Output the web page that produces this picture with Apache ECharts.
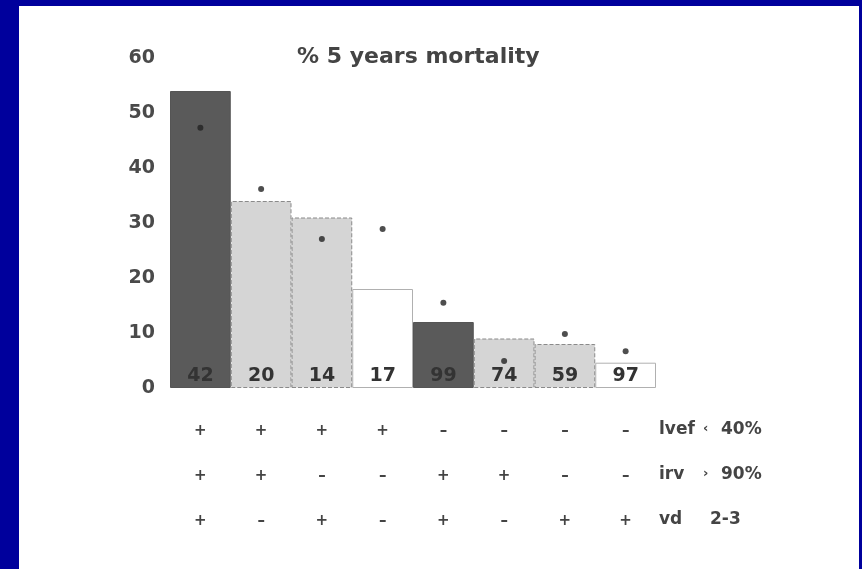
<!DOCTYPE html>
<html>
<head>
<meta charset="utf-8">
<script src="https://cdn.jsdelivr.net/npm/echarts@6/dist/echarts.min.js"></script>
<style>
html,body{margin:0;padding:0;width:862px;height:569px;background:#00009C;overflow:hidden;}
#panel{position:absolute;left:19px;top:6px;width:840px;height:563px;background:#fff;}
#chart{position:absolute;left:0;top:0;width:862px;height:569px;}
</style>
</head>
<body>
<div id="panel"></div>
<div id="chart"></div>
<script>
// ---- data ----
const groups = ['G1','G2','G3','G4','G5','G6','G7','G8'];
const mortality = [54, 34, 31, 18, 12, 9, 8, 4.6];          // % 5 years mortality (bars)
const marks = [47.3, 36.2, 27.1, 28.9, 15.5, 4.9, 9.8, 6.7]; // asterisk points
const counts = [42, 20, 14, 17, 99, 74, 59, 97];             // n in each bar
const lvef = ['+','+','+','+','–','–','–','–'];
const irv  = ['+','+','–','–','+','+','–','–'];
const vd   = ['+','–','+','–','+','–','+','+'];
const shade = ['dark','light','light','white','dark','light','light','white'];
const yTicks = [0, 10, 20, 30, 40, 50, 60];
const rowNames = ['lvef', 'irv', 'vd'];
const rowOps = ['‹', '›', ''];
const rowVals = ['40%', '90%', '2-3'];

const styles = {
  dark:  {color:'#5a5a5a', borderColor:'#555', borderWidth:1, borderType:'solid'},
  light: {color:'#d5d5d5', borderColor:'#8a8a8a', borderWidth:1, borderType:'dashed'},
  white: {color:'#ffffff', borderColor:'#b0b0b0', borderWidth:1, borderType:'solid'}
};

const chart = echarts.init(document.getElementById('chart'), null, {renderer:'canvas'});
const FONT = '"DejaVu Sans", sans-serif';
const txtColor = '#444';

const rowY = [431, 476, 521];
const graphics = [];
rowNames.forEach((n, i) => {
  graphics.push({type:'text', left:659, top:rowY[i]-10, style:{text:n, font:'bold 17px '+FONT, fill:txtColor}});
  if (rowOps[i]) graphics.push({type:'text', left:703, top:rowY[i]-9, style:{text:rowOps[i], font:'bold 13px '+FONT, fill:txtColor}});
  graphics.push({type:'text', left:(i===2?710:721), top:rowY[i]-10, style:{text:rowVals[i], font:'bold 17px '+FONT, fill:txtColor}});
});

chart.setOption({
  backgroundColor: 'transparent',
  animation: false,
  title: {
    text: '% 5 years mortality',
    left: 292, top: 41,
    textStyle: {fontFamily: FONT, fontSize: 22, fontWeight: 'bold', color: txtColor}
  },
  grid: {left: 170, right: 206, top: 58, bottom: 181},
  xAxis: {
    type: 'category',
    data: groups,
    axisLine: {show: false},
    axisTick: {show: false},
    axisLabel: {
      margin: 21,
      interval: 0,
      fontFamily: FONT, fontSize: 15, fontWeight: 'bold', color: txtColor,
      lineHeight: 45,
      formatter: (v, idx) => lvef[idx] + '\n' + irv[idx] + '\n' + vd[idx]
    }
  },
  yAxis: {
    type: 'value',
    min: yTicks[0], max: yTicks[yTicks.length-1], interval: 10,
    splitLine: {show: false},
    axisLine: {show: false},
    axisTick: {show: false},
    axisLabel: {margin: 15, fontFamily: FONT, fontSize: 19, fontWeight: 'bold', color: '#4a4a4a'}
  },
  series: [
    {
      type: 'bar',
      data: mortality.map((v, i) => ({value: v, itemStyle: styles[shade[i]]})),
      barCategoryGap: 0,
      label: {
        show: true, position: 'insideBottom', distance: 2,
        fontFamily: FONT, fontSize: 19, fontWeight: 'bold', color: '#333',
        formatter: p => String(counts[p.dataIndex])
      },
      z: 2
    },
    {
      type: 'scatter',
      data: marks,
      symbol: 'circle', symbolSize: 6,
      itemStyle: {color: '#222'},
      z: 5
    }
  ],
  graphic: graphics
});
</script>
</body>
</html>
